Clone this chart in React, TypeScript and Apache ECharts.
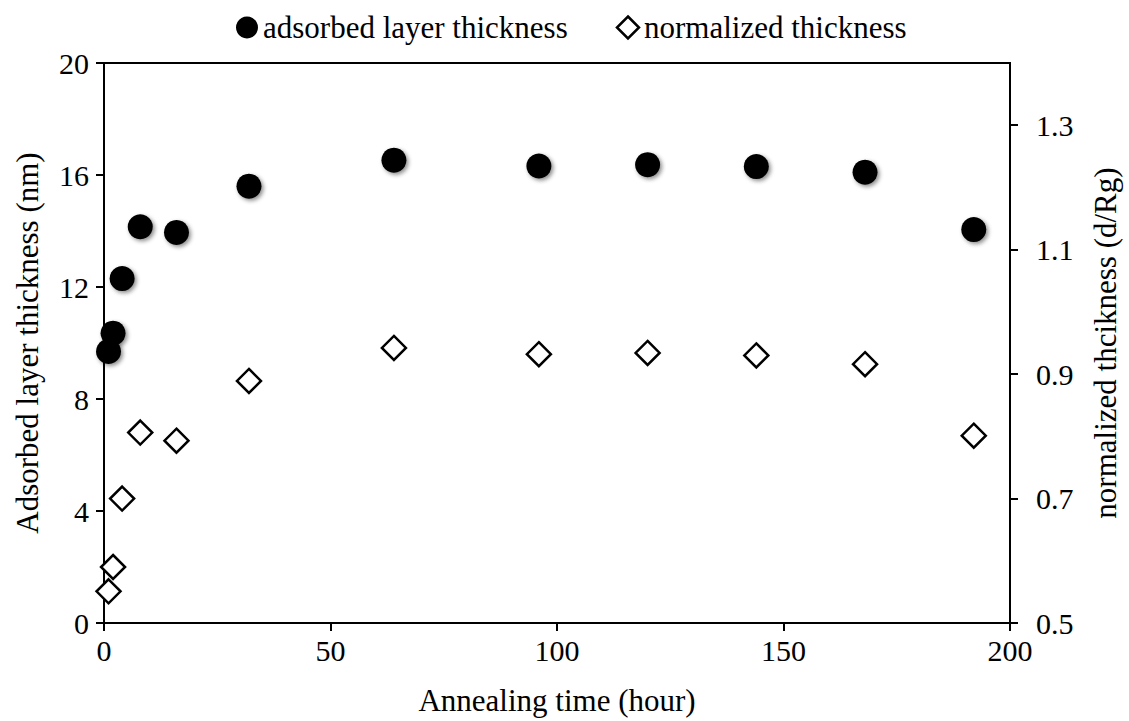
import React, { useEffect, useRef } from "react";
import * as echarts from "echarts";

const hours = [1, 2, 4, 8, 16, 32, 64, 96, 120, 144, 168, 192];
const adsorbed = [9.7, 10.35, 12.3, 14.15, 13.95, 15.6, 16.53, 16.32, 16.37, 16.3, 16.1, 14.05];
const normalized = [0.551, 0.59, 0.7, 0.806, 0.793, 0.889, 0.942, 0.932, 0.934, 0.93, 0.916, 0.801];
const rightTicks = [0.5, 0.7, 0.9, 1.1, 1.3];

const FONT = "Liberation Serif";

export default function App() {
  const ref = useRef<HTMLDivElement>(null);
  useEffect(() => {
    if (!ref.current) return;
    const chart = echarts.init(ref.current, undefined, { renderer: "svg" });
    const tickText = { fontFamily: FONT, fontSize: 30, color: "#000" };
    const nameText = { fontFamily: FONT, fontSize: 31, color: "#000" };
    chart.setOption({
      animation: false,
      backgroundColor: "#fff",
      textStyle: { fontFamily: FONT, color: "#000" },
      legend: {
        top: 7,
        left: 231,
        itemGap: 48,
        itemWidth: 22,
        itemHeight: 22,
        textStyle: { fontFamily: FONT, fontSize: 31, color: "#000" },
        data: [
          { name: "adsorbed layer thickness", icon: "circle", itemStyle: { opacity: 1, color: "#000" } },
          { name: "normalized thickness", icon: "diamond", itemStyle: { opacity: 1, color: "#fff", borderColor: "#000", borderWidth: 2.5 } },
        ],
      },
      grid: {
        left: 104,
        right: 112,
        top: 63,
        bottom: 93,
        show: true,
        borderColor: "#000",
        borderWidth: 2,
      },
      xAxis: {
        type: "value",
        min: 0,
        max: 200,
        interval: 50,
        name: "Annealing time (hour)",
        nameLocation: "middle",
        nameGap: 62,
        nameTextStyle: nameText,
        axisLine: { show: true, lineStyle: { color: "#000", width: 2 } },
        axisTick: { show: true, length: 8, lineStyle: { color: "#000", width: 2 } },
        axisLabel: { ...tickText, margin: 12 },
        splitLine: { show: false },
      },
      yAxis: [
        {
          type: "value",
          min: 0,
          max: 20,
          interval: 4,
          position: "left",
          name: "Adsorbed layer thickness (nm)",
          nameLocation: "middle",
          nameGap: 61,
          nameTextStyle: nameText,
          axisLine: { show: true, lineStyle: { color: "#000", width: 2 } },
          axisTick: { show: true, length: 8, lineStyle: { color: "#000", width: 2 } },
          axisLabel: { ...tickText, margin: 15 },
          splitLine: { show: false },
        },
        {
          type: "value",
          min: 0.5,
          max: 1.4,
          position: "right",
          name: "normalized thcikness (d/Rg)",
          nameLocation: "middle",
          nameGap: 80,
          nameRotate: 90,
          nameTextStyle: nameText,
          axisLine: { show: true, lineStyle: { color: "#000", width: 2 } },
          axisTick: { show: true, length: 8, customValues: rightTicks, lineStyle: { color: "#000", width: 2 } },
          axisLabel: {
            ...tickText,
            margin: 26,
            customValues: rightTicks,
            formatter: (v: number) => v.toFixed(1),
          },
          splitLine: { show: false },
        },
      ],
      series: [
        {
          name: "adsorbed layer thickness",
          type: "scatter",
          yAxisIndex: 0,
          symbol: "circle",
          symbolSize: 25,
          itemStyle: {
            color: "#000",
            opacity: 1,
            shadowBlur: 4,
            shadowColor: "rgba(0,0,0,0.45)",
            shadowOffsetX: 2,
            shadowOffsetY: 2,
          },
          data: hours.map((h, i) => [h, adsorbed[i]]),
          z: 3,
        },
        {
          name: "normalized thickness",
          type: "scatter",
          yAxisIndex: 1,
          symbol: "diamond",
          symbolSize: 24,
          itemStyle: { color: "#fff", opacity: 1, borderColor: "#000", borderWidth: 2.5 },
          data: hours.map((h, i) => [h, normalized[i]]),
          z: 2,
        },
      ],
    });
    return () => chart.dispose();
  }, []);
  return (
    <div
      ref={ref}
      style={{ position: "fixed", left: 0, top: 0, width: 1129, height: 721 }}
    />
  );
}
